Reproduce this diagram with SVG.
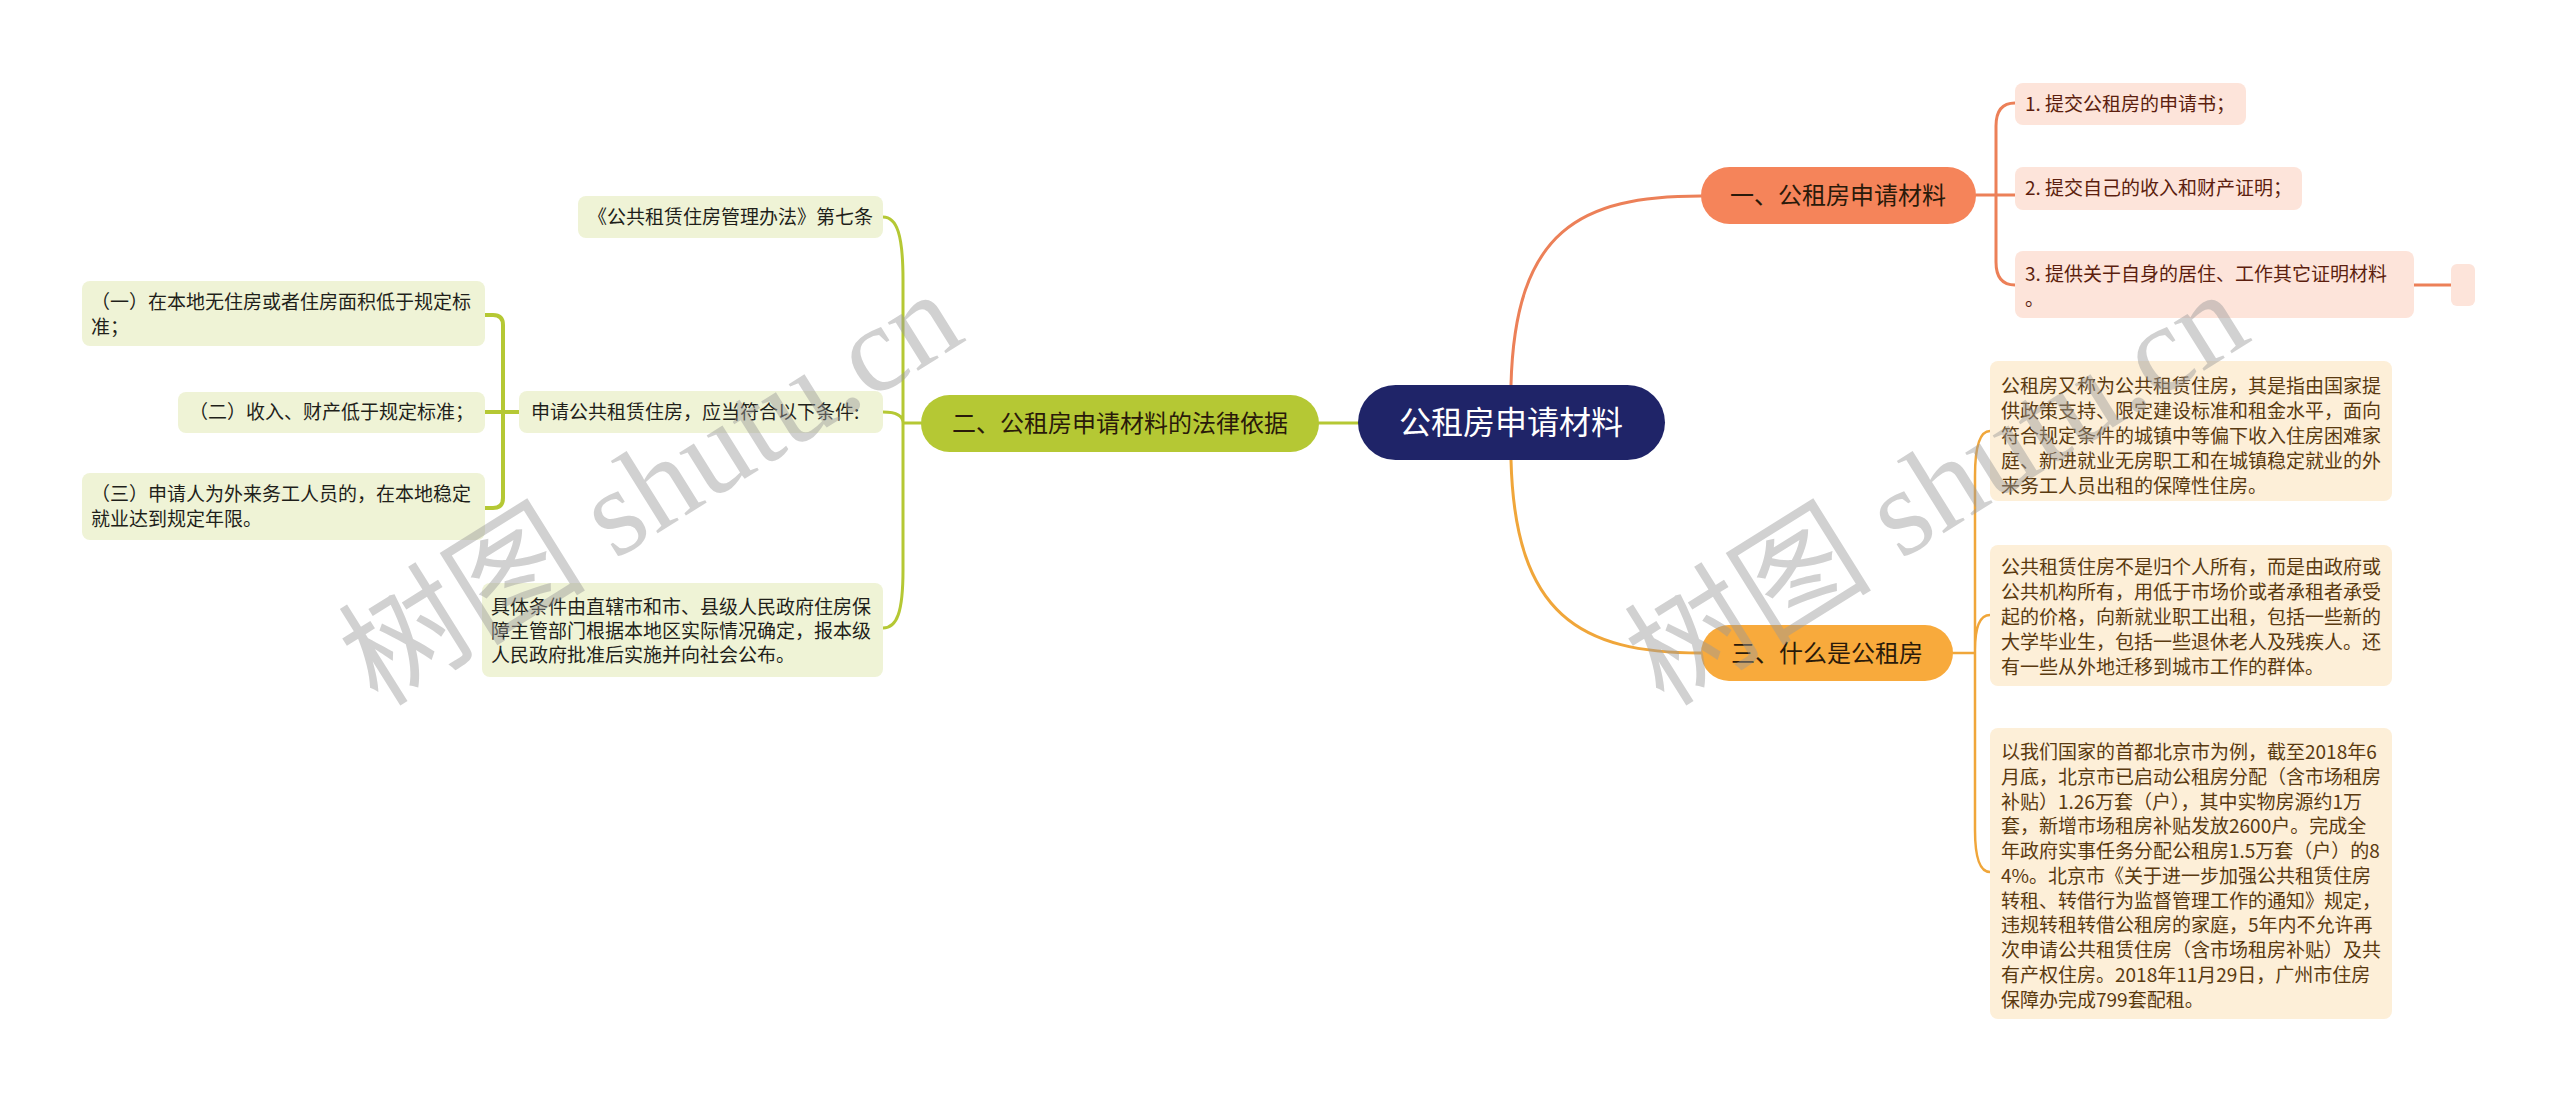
<svg xmlns="http://www.w3.org/2000/svg" width="2560" height="1101" viewBox="0 0 2560 1101">
<style>
text{font-family:"Noto Sans CJK SC","Noto Sans",sans-serif}
.root rect{fill:#1f2468}
.root text{fill:#ffffff;font-size:32px;text-anchor:middle}
.b1 rect{fill:#f5845a}
.b2 rect{fill:#b5c834}
.b3 rect{fill:#f8aa3c}
.br text{fill:#2a1a0a;font-size:24px;text-anchor:middle}
.l1 rect{fill:#fde4da}
.l1 text{fill:#5c1e0e;font-size:19px}
.l2 rect{fill:#eff3d6}
.l2 text{fill:#1f1f1a;font-size:19px}
.l3 rect{fill:#fdefd8}
.l3 text{fill:#5a3a10;font-size:19px}
.c{fill:none;stroke-linecap:round}
.c1{stroke:#ec8058;stroke-width:3}
.c2{stroke:#b5c834;stroke-width:3}
.c2b{stroke:#b5c834;stroke-width:4}
.c3{stroke:#f0a63a;stroke-width:3}
.wm{font-family:"Liberation Serif","Noto Sans CJK SC",serif;font-size:124px;fill:#9a9a9a;opacity:0.45}
</style>
<rect width="2560" height="1101" fill="#ffffff"/>
<g id="connectors">
<path class="c c1" d="M1511,385 C1515,230 1580,196 1701,196"/>
<path class="c c3" d="M1511,460 C1515,615 1580,653 1701,653"/>
<path class="c c2" d="M1358,423 H1319"/>
<path class="c c1" d="M1976,195 H2015 M1996,195 V126 Q1996,103 2015,103 M1996,195 V262 Q1996,285 2015,285 M2414,285 H2451"/>
<path class="c c2" d="M921,423 H903 M903,423 V280 C903,235 897,217 883,217 M903,423 C903,416 897,412 883,412 M903,423 V570 C903,612 897,628 883,628"/>
<path class="c c2b" d="M519,412 H485 M503,412 V325 Q503,315 493,315 H485 M503,412 V498 Q503,508 493,508 H485"/>
<path class="c c3" style="stroke-width:2.5" d="M1953,653 H1975 M1975,653 V476 Q1975,431 1990,431 M1975,653 V650 Q1975,615 1990,615 M1975,653 V830 Q1975,872 1990,872"/>
</g>
<g id="root" class="root"><rect x="1358" y="385" width="307" height="75" rx="37.5"/><text x="1511" y="434">公租房申请材料</text></g>
<g id="b1" class="br b1"><rect x="1701" y="167" width="275" height="57" rx="28.5"/><text x="1838" y="204">一、公租房申请材料</text></g>
<g id="b2" class="br b2"><rect x="921" y="395" width="398" height="57" rx="28.5"/><text x="1120" y="432">二、公租房申请材料的法律依据</text></g>
<g id="b3" class="br b3"><rect x="1701" y="625" width="252" height="56" rx="28"/><text x="1827" y="662">三、什么是公租房</text></g>
<g id="b1-1" class="l1"><rect x="2015" y="83" width="231" height="42" rx="8"/><text x="2025" y="111">1. 提交公租房的申请书；</text></g>
<g id="b1-2" class="l1"><rect x="2015" y="167" width="287" height="43" rx="8"/><text x="2025" y="195">2. 提交自己的收入和财产证明；</text></g>
<g id="b1-3" class="l1"><rect x="2015" y="251" width="399" height="67" rx="8"/><text x="2025" y="281">3. 提供关于自身的居住、工作其它证明材料</text><text x="2025" y="306">。</text></g>
<g id="b1-3-1" class="l1"><rect x="2451" y="264" width="24" height="42" rx="6"/></g>
<g id="b2-1" class="l2"><rect x="578" y="196" width="305" height="42" rx="8"/><text x="588" y="224">《公共租赁住房管理办法》第七条</text></g>
<g id="b2-2" class="l2"><rect x="519" y="391" width="364" height="42" rx="8"/><text x="531" y="419">申请公共租赁住房，应当符合以下条件:</text></g>
<g id="b2-3" class="l2"><rect x="482" y="583" width="401" height="94" rx="8"/><text x="491" y="614">具体条件由直辖市和市、县级人民政府住房保</text><text x="491" y="638">障主管部门根据本地区实际情况确定，报本级</text><text x="491" y="662">人民政府批准后实施并向社会公布。</text></g>
<g id="b2-2-1" class="l2"><rect x="82" y="281" width="403" height="65" rx="8"/><text x="91" y="309">（一）在本地无住房或者住房面积低于规定标</text><text x="91" y="334">准；</text></g>
<g id="b2-2-2" class="l2"><rect x="178" y="392" width="307" height="41" rx="8"/><text x="189" y="419">（二）收入、财产低于规定标准；</text></g>
<g id="b2-2-3" class="l2"><rect x="82" y="473" width="403" height="67" rx="8"/><text x="91" y="501">（三）申请人为外来务工人员的，在本地稳定</text><text x="91" y="526">就业达到规定年限。</text></g>
<g id="b3-1" class="l3"><rect x="1990" y="361" width="402" height="140" rx="8"/>
<text x="2001" y="393">公租房又称为公共租赁住房，其是指由国家提</text>
<text x="2001" y="418">供政策支持、限定建设标准和租金水平，面向</text>
<text x="2001" y="443">符合规定条件的城镇中等偏下收入住房困难家</text>
<text x="2001" y="468">庭、新进就业无房职工和在城镇稳定就业的外</text>
<text x="2001" y="493">来务工人员出租的保障性住房。</text></g>
<g id="b3-2" class="l3"><rect x="1990" y="545" width="402" height="141" rx="8"/>
<text x="2001" y="574">公共租赁住房不是归个人所有，而是由政府或</text>
<text x="2001" y="599">公共机构所有，用低于市场价或者承租者承受</text>
<text x="2001" y="624">起的价格，向新就业职工出租，包括一些新的</text>
<text x="2001" y="649">大学毕业生，包括一些退休老人及残疾人。还</text>
<text x="2001" y="674">有一些从外地迁移到城市工作的群体。</text></g>
<g id="b3-3" class="l3"><rect x="1990" y="728" width="402" height="291" rx="8"/>
<text x="2001" y="759">以我们国家的首都北京市为例，截至2018年6</text>
<text x="2001" y="784">月底，北京市已启动公租房分配（含市场租房</text>
<text x="2001" y="809">补贴）1.26万套（户），其中实物房源约1万</text>
<text x="2001" y="833">套，新增市场租房补贴发放2600户。完成全</text>
<text x="2001" y="858">年政府实事任务分配公租房1.5万套（户）的8</text>
<text x="2001" y="883">4%。北京市《关于进一步加强公共租赁住房</text>
<text x="2001" y="908">转租、转借行为监督管理工作的通知》规定，</text>
<text x="2001" y="932">违规转租转借公租房的家庭，5年内不允许再</text>
<text x="2001" y="957">次申请公共租赁住房（含市场租房补贴）及共</text>
<text x="2001" y="982">有产权住房。2018年11月29日，广州市住房</text>
<text x="2001" y="1007">保障办完成799套配租。</text></g>
<g id="watermark">
<text class="wm" transform="translate(378,708) rotate(-32)">树图 shutu.cn</text>
<text class="wm" transform="translate(1664,708) rotate(-32)">树图 shutu.cn</text>
</g>
</svg>
